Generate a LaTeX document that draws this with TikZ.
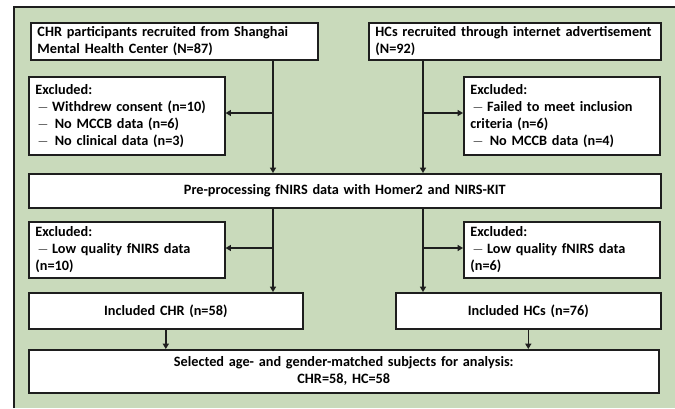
\documentclass[tikz,border=0pt]{standalone}
\usepackage{fontspec}
\setmainfont{Carlito}
\usetikzlibrary{arrows.meta}
\usetikzlibrary{positioning}
\definecolor{hgruen}{RGB}{201,218,187}
\definecolor{linie}{RGB}{30,30,30}
\newcommand{\strich}{\hspace{1.5pt}$-$\hspace{2.5pt}}
\tikzset{
  box/.style={draw=linie, line width=1.2pt, fill=white, anchor=north west,
    inner xsep=5pt, inner ysep=2pt, align=left,
    font=\bfseries\fontsize{10.7}{12.75}\selectfont},
  mitte/.style={align=center},
  pfeil/.style={draw=linie, line width=1.2pt, -{Triangle[length=4pt,width=4.5pt]}}
}

\begin{document}
\begin{tikzpicture}[x=0.75pt, y=-0.75pt]
    \useasboundingbox (0,0) rectangle (675,408);

    % Hintergrund
    \fill[hgruen] (14,7) rectangle (675,408);
    \draw[linie, line width=1.5pt] (14,408) -- (14,7) -- (675,7);

    % Rekrutierung
    \node[box, text width=205.25pt, minimum height=27.75pt] (chr) at (30,22)
        {CHR participants recruited from Shanghai\\Mental Health Center (N=87)};
    \node[box, text width=209pt, minimum height=27.75pt] (hc) at (368,22)
        {HCs recruited through internet advertisement\\(N=92)};

    % Ausschluss oben
    \node[box, text width=137pt, minimum height=58.5pt] (exA) at (28,76)
        {Excluded:\\\strich Withdrew consent (n=10)\\\strich\hspace{2pt}No MCCB data (n=6)\\\strich\hspace{2pt}No clinical data (n=3)};
    \node[box, text width=137pt, minimum height=58.5pt] (exB) at (463,76)
        {Excluded:\\\strich Failed to meet inclusion\\criteria (n=6)\\\strich\hspace{2pt}No MCCB data (n=4)};

    % Vorverarbeitung
    \node[box, mitte, text width=464pt, minimum height=25.5pt] (pre) at (28,173)
        {Pre-processing fNIRS data with Homer2 and NIRS-KIT};

    % Ausschluss unten
    \node[box, text width=137pt, minimum height=42pt] (exC) at (28,221)
        {Excluded:\\\strich Low quality fNIRS data\\(n=10)};
    \node[box, text width=137pt, minimum height=42pt] (exD) at (463,221)
        {Excluded:\\\strich Low quality fNIRS data\\(n=6)};

    % Eingeschlossen
    \node[box, mitte, text width=195.5pt, minimum height=27pt] (inA) at (28,292)
        {Included CHR (n=58)};
    \node[box, mitte, text width=188.75pt, minimum height=27pt] (inB) at (395,292)
        {Included HCs (n=76)};

    % Auswahl
    \node[box, mitte, text width=462.5pt, minimum height=32.25pt] (sel) at (28,349)
        {Selected age- and gender-matched subjects for analysis:\\CHR=58, HC=58};

    % Pfeile
    \coordinate (gA) at (273,113);
    \coordinate (gB) at (423,113);
    \coordinate (gC) at (273,248);
    \coordinate (gD) at (423,248);
    \draw[pfeil] (chr.south -| gA) -- (pre.north -| gA);
    \draw[pfeil] (gA) -- (exA.east |- gA);
    \draw[pfeil] (hc.south -| gB) -- (pre.north -| gB);
    \draw[pfeil] (gB) -- (exB.west |- gB);
    \draw[pfeil] (pre.south -| gC) -- (inA.north -| gC);
    \draw[pfeil] (gC) -- (exC.east |- gC);
    \draw[pfeil] (pre.south -| gD) -- (inB.north -| gD);
    \draw[pfeil] (gD) -- (exD.west |- gD);
    \draw[pfeil] (inA.south) -- (sel.north -| inA.south);
    \draw[pfeil] (inB.south) -- (sel.north -| inB.south);
\end{tikzpicture}
\end{document}
